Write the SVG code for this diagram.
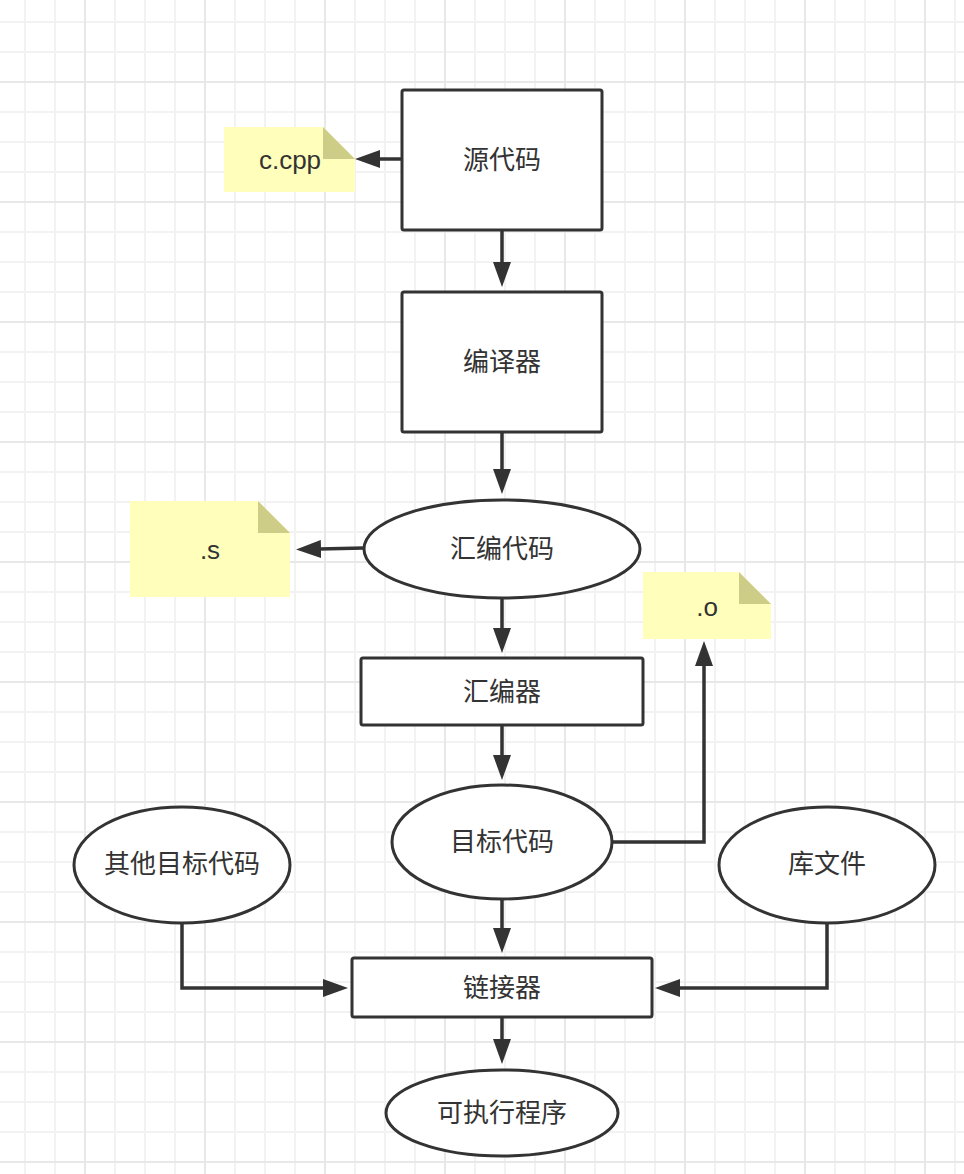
<svg xmlns="http://www.w3.org/2000/svg" width="964" height="1174" viewBox="0 0 964 1174">
<style>
.shape{fill:#ffffff;stroke:#333333;stroke-width:3}
.note{fill:#ffffbb}
.fold{fill:#cdcd88}
.lbl{font-family:"Liberation Sans","Noto Sans CJK SC",sans-serif;font-size:26px;fill:#333333;text-anchor:middle;dominant-baseline:central}
.conn{fill:none;stroke:#333333;stroke-width:3.5;stroke-linejoin:miter}
</style>
<defs>
<pattern id="grid" patternUnits="userSpaceOnUse" x="70" y="67" width="120" height="120">
<rect x="44" y="0" width="2" height="120" fill="#f2f2f2"/>
<rect x="74" y="0" width="2" height="120" fill="#f2f2f2"/>
<rect x="104" y="0" width="2" height="120" fill="#f2f2f2"/>
<rect x="0" y="44" width="120" height="2" fill="#f2f2f2"/>
<rect x="0" y="74" width="120" height="2" fill="#f2f2f2"/>
<rect x="0" y="104" width="120" height="2" fill="#f2f2f2"/>
<rect x="14" y="0" width="2" height="120" fill="#e8e8e8"/>
<rect x="0" y="14" width="120" height="2" fill="#e8e8e8"/>
</pattern>
<marker id="arr" viewBox="0 0 25 18" refX="2" refY="9" markerWidth="25" markerHeight="18" markerUnits="userSpaceOnUse" orient="auto">
<path d="M0,0 L25,9 L0,18 z" fill="#333333"/>
</marker>
</defs>
<rect x="0" y="0" width="964" height="1174" fill="#ffffff"/>
<rect x="0" y="0" width="964" height="1174" fill="url(#grid)"/>

<g id="connectors">
<path class="conn" d="M402,159 L378,159" marker-end="url(#arr)"/>
<path class="conn" d="M502,230 L502,264" marker-end="url(#arr)"/>
<path class="conn" d="M502,432 L502,471" marker-end="url(#arr)"/>
<path class="conn" d="M364,548 L319,549" marker-end="url(#arr)"/>
<path class="conn" d="M502,598 L502,630" marker-end="url(#arr)"/>
<path class="conn" d="M502,725 L502,757" marker-end="url(#arr)"/>
<path class="conn" d="M612,842 L704,842 L704,664" marker-end="url(#arr)"/>
<path class="conn" d="M502,900 L502,930" marker-end="url(#arr)"/>
<path class="conn" d="M182,923 L182,988 L325,988" marker-end="url(#arr)"/>
<path class="conn" d="M827,923 L827,988 L678,988" marker-end="url(#arr)"/>
<path class="conn" d="M502,1017 L502,1041" marker-end="url(#arr)"/>
</g>

<g id="note-cpp">
<path class="note" d="M224,127 L323,127 L355,159 L355,192 L224,192 z"/>
<path class="fold" d="M323,127 L355,159 L323,159 z"/>
<text class="lbl" x="290" y="160">c.cpp</text>
</g>
<g id="source">
<rect class="shape" x="402" y="90" width="200" height="140" rx="2"/>
<text class="lbl" x="502" y="160">源代码</text>
</g>
<g id="compiler">
<rect class="shape" x="402" y="292" width="200" height="140" rx="2"/>
<text class="lbl" x="502" y="362">编译器</text>
</g>
<g id="asm-code">
<ellipse class="shape" cx="502" cy="549" rx="138" ry="49"/>
<text class="lbl" x="502" y="549">汇编代码</text>
</g>
<g id="note-s">
<path class="note" d="M130,501 L258,501 L290,533 L290,597 L130,597 z"/>
<path class="fold" d="M258,501 L290,533 L258,533 z"/>
<text class="lbl" x="210" y="550">.s</text>
</g>
<g id="note-o">
<path class="note" d="M643,572 L739,572 L771,604 L771,639 L643,639 z"/>
<path class="fold" d="M739,572 L771,604 L739,604 z"/>
<text class="lbl" x="707" y="607">.o</text>
</g>
<g id="assembler">
<rect class="shape" x="361" y="658" width="282" height="67" rx="2"/>
<text class="lbl" x="502" y="692">汇编器</text>
</g>
<g id="object-code">
<ellipse class="shape" cx="502" cy="842" rx="110" ry="57"/>
<text class="lbl" x="502" y="842">目标代码</text>
</g>
<g id="other-object">
<ellipse class="shape" cx="182" cy="865" rx="108" ry="58"/>
<text class="lbl" x="182" y="864">其他目标代码</text>
</g>
<g id="library">
<ellipse class="shape" cx="827" cy="865" rx="108" ry="58"/>
<text class="lbl" x="827" y="864">库文件</text>
</g>
<g id="linker">
<rect class="shape" x="352" y="958" width="300" height="59" rx="2"/>
<text class="lbl" x="502" y="988">链接器</text>
</g>
<g id="executable">
<ellipse class="shape" cx="502" cy="1113" rx="116" ry="43"/>
<text class="lbl" x="502" y="1113">可执行程序</text>
</g>
</svg>
